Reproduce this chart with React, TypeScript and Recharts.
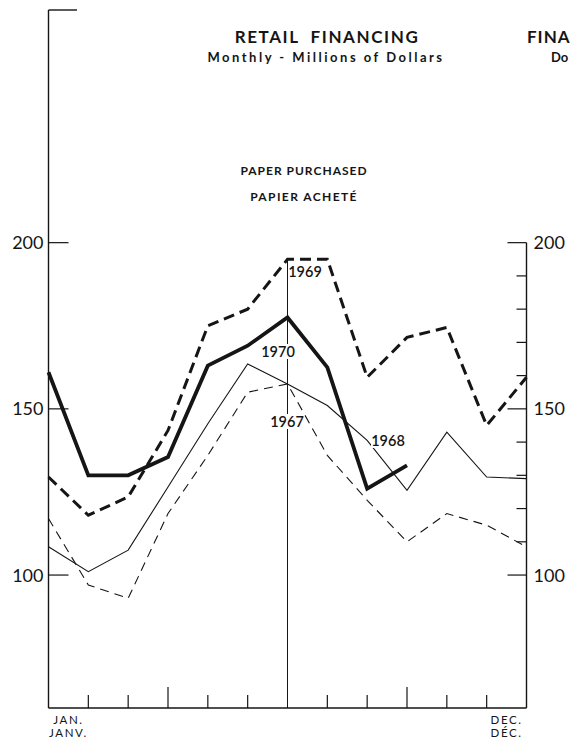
import React from "react";
import { LineChart, Line, XAxis, YAxis, ReferenceLine } from "recharts";

// month positions 0..12 along the year axis
const monthIndex = [0, 1, 2, 3, 4, 5, 6, 7, 8, 9, 10, 11, 12];

// paper purchased, millions of dollars
const series1970 = [161, 130, 130, 135.5, 163, 169, 177.5, 162.5, 126, 133, null, null, null];
const series1969 = [129.5, 118, 123.5, 143.5, 175, 180, 195, 195, 159.5, 171.5, 174.5, 145, 159.5];
const series1968 = [108.5, 101, 107.5, 126.5, 145.5, 163.5, 157.5, 151, 140.5, 125.5, 143, 129.5, 129];
const series1967 = [117, 97, 93, 118.5, 136, 155, 157.5, 136, 122.5, 110, 118.5, 115, 108.5];

const leftTicks = [100, 150, 200];
const rightTicks = [100, 110, 120, 130, 140, 150, 160, 170, 180, 190, 200];
const majorTicks = [100, 150, 200];
const quarterMarks = [3, 9];
const midYear = 6;
const yDomain: [number, number] = [60, 270];

const W = 571;
const H = 740;
const LEFT_W = 48.5;
const RIGHT_W = 44.5;
const STEP = (W - LEFT_W - RIGHT_W) / 12;

const INK = "#151515";
const FONT = "Lato, 'Noto Sans', sans-serif";

const data = monthIndex.map((m, i) => ({
  m,
  y1970: series1970[i],
  y1969: series1969[i],
  y1968: series1968[i],
  y1967: series1967[i],
}));

function LeftTick({ x, y, payload }: any) {
  return (
    <g>
      <line x1={x} x2={x + 20} y1={y} y2={y} stroke={INK} strokeWidth={1.2} />
      <text x={x - 5} y={y} dy={6.5} textAnchor="end" fontSize={18} fontFamily={FONT} fill={INK}>
        {payload.value}
      </text>
    </g>
  );
}

function RightTick({ x, y, payload }: any) {
  const major = majorTicks.includes(payload.value);
  return (
    <g>
      <line x1={x - (major ? 19 : 10)} x2={x} y1={y} y2={y} stroke={INK} strokeWidth={1.2} />
      {major && (
        <text x={x + 7} y={y} dy={6.5} textAnchor="start" fontSize={18} fontFamily={FONT} fill={INK}>
          {payload.value}
        </text>
      )}
    </g>
  );
}

function MonthTick({ x, y, payload }: any) {
  const v = payload.value;
  const label = { fontSize: 11.5, fontFamily: FONT, fill: INK, letterSpacing: 1.6, textAnchor: "middle" as const };
  if (v === 0) {
    return (
      <g>
        <text x={x + STEP / 2} y={y + 16} {...label}>JAN.</text>
        <text x={x + STEP / 2} y={y + 29} {...label}>JANV.</text>
      </g>
    );
  }
  if (v === 12) {
    return (
      <g>
        <text x={x - STEP / 2} y={y + 16} {...label}>DEC.</text>
        <text x={x - STEP / 2} y={y + 29} {...label}>DÉC.</text>
      </g>
    );
  }
  if (v === midYear) return null;
  const len = quarterMarks.includes(v) ? 21 : 13;
  return <line x1={x} x2={x} y1={y} y2={y - len} stroke={INK} strokeWidth={1.2} />;
}

function YearLabel({ x, y, text }: { x: number; y: number; text: string }) {
  return (
    <g>
      <rect x={x - 17} y={y - 8} width={34} height={15} fill="#fff" />
      <text x={x} y={y + 5} textAnchor="middle" fontSize={14.5} fontWeight={600} fontFamily={FONT} fill={INK}>
        {text}
      </text>
    </g>
  );
}

export default function App() {
  return (
    <div style={{ position: "absolute", left: 0, top: 0, width: W, height: H, background: "#fff", overflow: "hidden" }}>
      <LineChart width={W} height={H} data={data} margin={{ top: 10, right: 0, bottom: 0, left: 0 }}>
        <XAxis
          dataKey="m"
          type="number"
          domain={[0, 12]}
          ticks={monthIndex}
          interval={0}
          height={32}
          tickSize={0}
          tickMargin={0}
          tickLine={false}
          axisLine={{ stroke: INK, strokeWidth: 1.4 }}
          tick={<MonthTick />}
        />
        <YAxis
          yAxisId="l"
          orientation="left"
          width={LEFT_W}
          domain={yDomain}
          ticks={leftTicks}
          interval={0}
          tickSize={0}
          tickMargin={0}
          tickLine={false}
          axisLine={{ stroke: INK, strokeWidth: 1.4 }}
          tick={<LeftTick />}
        />
        <YAxis
          yAxisId="r"
          orientation="right"
          width={RIGHT_W}
          domain={yDomain}
          ticks={rightTicks}
          interval={0}
          tickSize={0}
          tickMargin={0}
          tickLine={false}
          axisLine={false}
          tick={<RightTick />}
        />
        <ReferenceLine
          yAxisId="l"
          segment={[{ x: 12, y: 200 }, { x: 12, y: 60 }]}
          stroke={INK}
          strokeWidth={1.4}
        />
        <ReferenceLine
          yAxisId="l"
          segment={[{ x: midYear, y: 195 }, { x: midYear, y: 60 }]}
          stroke={INK}
          strokeWidth={1}
        />
        <Line yAxisId="r" dataKey="y1967" type="linear" stroke={INK} strokeWidth={1.1} strokeDasharray="9 6" dot={false} isAnimationActive={false} />
        <Line yAxisId="r" dataKey="y1968" type="linear" stroke={INK} strokeWidth={1.1} dot={false} isAnimationActive={false} />
        <Line yAxisId="l" dataKey="y1969" type="linear" stroke={INK} strokeWidth={3} strokeDasharray="11 6" dot={false} isAnimationActive={false} />
        <Line yAxisId="l" dataKey="y1970" type="linear" stroke={INK} strokeWidth={3.8} dot={false} isAnimationActive={false} />
      </LineChart>
      <svg width={W} height={H} style={{ position: "absolute", left: 0, top: 0, pointerEvents: "none" }}>
        <line x1={48.5} x2={77} y1={10} y2={10} stroke={INK} strokeWidth={1.4} />
        <g fontFamily={FONT} fill={INK} fontWeight={700}>
          <text x={327} y={43} textAnchor="middle" fontSize={17} letterSpacing={1.6} style={{ whiteSpace: "pre" }}>
            RETAIL  FINANCING
          </text>
          <text x={326} y={62} textAnchor="middle" fontSize={13} letterSpacing={2.5}>
            Monthly - Millions of Dollars
          </text>
          <text x={527} y={43} fontSize={17} letterSpacing={1}>FINA</text>
          <text x={551} y={62} fontSize={13}>Do</text>
          <text x={304} y={175} textAnchor="middle" fontSize={12} letterSpacing={1.0}>PAPER PURCHASED</text>
          <text x={304} y={201} textAnchor="middle" fontSize={12} letterSpacing={1.4}>PAPIER ACHETÉ</text>
        </g>
        <YearLabel x={305} y={272} text="1969" />
        <YearLabel x={278} y={352} text="1970" />
        <YearLabel x={287} y={422} text="1967" />
        <YearLabel x={388} y={441} text="1968" />
      </svg>
    </div>
  );
}
